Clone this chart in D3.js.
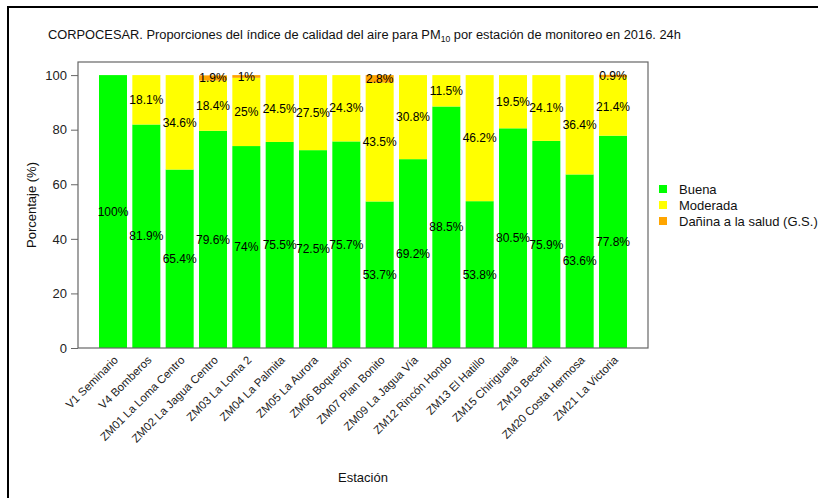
<!DOCTYPE html>
<html>
<head>
<meta charset="utf-8">
<script src="https://cdn.jsdelivr.net/npm/d3@7"></script>
<style>
  html, body { margin: 0; padding: 0; background: #fff; }
  svg { display: block; font-family: "Liberation Sans", Arial, sans-serif; }
</style>
</head>
<body>
<svg id="chart" width="818" height="498"></svg>
<script>
// Stations (monitoring sites)
const stations = [
  "V1 Seminario", "V4 Bomberos", "ZM01 La Loma Centro", "ZM02 La Jagua Centro",
  "ZM03 La Loma 2", "ZM04 La Palmita", "ZM05 La Aurora", "ZM06 Boquerón",
  "ZM07 Plan Bonito", "ZM09 La Jagua Vía", "ZM12 Rincón Hondo", "ZM13 El Hatillo",
  "ZM15 Chiriguaná", "ZM19 Becerril", "ZM20 Costa Hermosa", "ZM21 La Victoria"
];

// Share of days per air-quality category (%)
const buena    = [100, 81.9, 65.4, 79.6, 74, 75.5, 72.5, 75.7, 53.7, 69.2, 88.5, 53.8, 80.5, 75.9, 63.6, 77.8];
const moderada = [0, 18.1, 34.6, 18.4, 25, 24.5, 27.5, 24.3, 43.5, 30.8, 11.5, 46.2, 19.5, 24.1, 36.4, 21.4];
const danina   = [0, 0, 0, 1.9, 1, 0, 0, 0, 2.8, 0, 0, 0, 0, 0, 0, 0.9];

const categories = ["Buena", "Moderada", "Dañina a la salud (G.S.)"];
const colors = ["#00ff00", "#ffff00", "#ffa500"];
const yTicks = [0, 20, 40, 60, 80, 100];

const svg = d3.select("#chart");

// Outer frame
svg.append("rect")
  .attr("x", 8).attr("y", 7).attr("width", 830).attr("height", 520)
  .attr("fill", "none").attr("stroke", "#000").attr("stroke-width", 2);

const plot = { left: 78, right: 648, top: 62, bottom: 348 };

const x = d3.scaleBand()
  .domain(stations)
  .range([plot.left, plot.right])
  .paddingInner(0.16)
  .paddingOuter(0.63);

const y = d3.scaleLinear()
  .domain([0, 104.8])
  .range([plot.bottom, plot.top]);

// Stack the three series
const rows = stations.map((s, i) => ({ station: s, Buena: buena[i], Moderada: moderada[i], "Dañina a la salud (G.S.)": danina[i] }));
const series = d3.stack().keys(categories)(rows);

// Bars
const layers = svg.append("g").selectAll("g")
  .data(series).join("g")
  .attr("fill", (d, i) => colors[i]);

layers.selectAll("rect")
  .data(d => d).join("rect")
  .attr("x", d => x(d.data.station))
  .attr("width", x.bandwidth())
  .attr("y", d => y(d[1]))
  .attr("height", d => y(d[0]) - y(d[1]));

// Segment value labels
const labels = svg.append("g")
  .attr("font-size", 12).attr("fill", "#000").attr("text-anchor", "middle");
series.forEach(layer => {
  layer.forEach(d => {
    const v = d[1] - d[0];
    if (v <= 0) return;
    labels.append("text")
      .attr("x", x(d.data.station) + x.bandwidth() / 2)
      .attr("y", y((d[0] + d[1]) / 2))
      .attr("dy", "0.35em")
      .text(d3.format(".3~")(+v.toFixed(1)) + "%");
  });
});

// Plot box
svg.append("rect")
  .attr("x", plot.left).attr("y", plot.top)
  .attr("width", plot.right - plot.left).attr("height", plot.bottom - plot.top)
  .attr("fill", "none").attr("stroke", "#666").attr("stroke-width", 1.2);

// Y axis
const yAxis = svg.append("g")
  .attr("transform", `translate(${plot.left},0)`)
  .call(d3.axisLeft(y).tickValues(yTicks).tickSize(7).tickPadding(4));
yAxis.select(".domain").remove();
yAxis.selectAll("line").attr("stroke", "#666");
yAxis.selectAll("text").attr("font-size", 13).attr("fill", "#222")
  .attr("font-family", "Liberation Sans, Arial, sans-serif");

// X axis labels, rotated
const xAxis = svg.append("g")
  .attr("transform", `translate(0,${plot.bottom})`)
  .call(d3.axisBottom(x).tickSize(0).tickPadding(0));
xAxis.select(".domain").remove();
xAxis.selectAll("text")
  .attr("font-size", 11.4).attr("fill", "#222")
  .attr("font-family", "Liberation Sans, Arial, sans-serif")
  .attr("text-anchor", "end")
  .attr("dy", "0.35em")
  .attr("transform", "translate(3,10) rotate(-45)");

// Title
const title = svg.append("text")
  .attr("x", 48).attr("y", 39)
  .attr("font-size", 12.85).attr("fill", "#111");
title.append("tspan").text("CORPOCESAR. Proporciones del índice de calidad del aire para PM");
title.append("tspan").attr("font-size", 8.6).attr("dy", 3).text("10");
title.append("tspan").attr("dy", -3).text(" por estación de monitoreo en 2016. 24h");

// Axis titles
svg.append("text")
  .attr("transform", `translate(36,${(plot.top + plot.bottom) / 2}) rotate(-90)`)
  .attr("text-anchor", "middle").attr("font-size", 13).attr("fill", "#111")
  .text("Porcentaje (%)");

svg.append("text")
  .attr("x", (plot.left + plot.right) / 2).attr("y", 482)
  .attr("text-anchor", "middle").attr("font-size", 13).attr("fill", "#111")
  .text("Estación");

// Legend
const legend = svg.append("g").attr("transform", "translate(659,189)");
categories.forEach((c, i) => {
  const g = legend.append("g").attr("transform", `translate(0,${i * 16})`);
  g.append("rect").attr("x", 0).attr("y", -4).attr("width", 8).attr("height", 8).attr("fill", colors[i]);
  g.append("text").attr("x", 20).attr("dy", "0.35em").attr("font-size", 13).attr("fill", "#111").text(c);
});
</script>
</body>
</html>
